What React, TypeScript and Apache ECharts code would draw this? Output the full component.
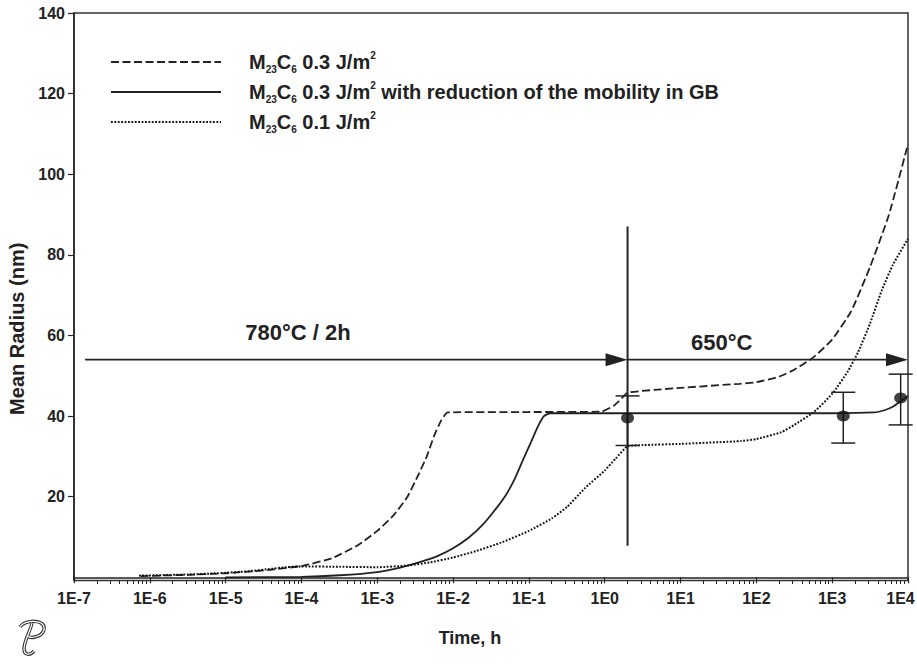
import { useEffect, useRef } from 'react';
import * as echarts from 'echarts';

// ---------- axis ticks ----------
const decadeExponents = [-7, -6, -5, -4, -3, -2, -1, 0, 1, 2, 3, 4];
const decadeLabels = ['1E-7', '1E-6', '1E-5', '1E-4', '1E-3', '1E-2', '1E-1', '1E0', '1E1', '1E2', '1E3', '1E4'];
const minorMultipliers = [2, 3, 4, 5, 6, 7, 8, 9];
const yTickValues = [20, 40, 60, 80, 100, 120, 140];

// ---------- series (time in h, mean radius in nm) ----------
const seriesNames = [
  'M23C6 0.3 J/m2',
  'M23C6 0.3 J/m2 with reduction of the mobility in GB',
  'M23C6 0.1 J/m2',
];
const legendRich = [
  'M{sub|23}C{sub|6} 0.3 J/m{sup|2}',
  'M{sub|23}C{sub|6} 0.3 J/m{sup|2} with reduction of the mobility in GB',
  'M{sub|23}C{sub|6} 0.1 J/m{sup|2}',
];

const curve03: [number, number][] = [
  [7.6e-7, 0.3], [3.2e-6, 0.6], [1e-5, 1.0], [3.2e-5, 1.7], [1e-4, 2.8], [2.5e-4, 4.7],
  [5.6e-4, 8], [1e-3, 11.5], [1.66e-3, 15.5], [2.5e-3, 20], [3.5e-3, 25.5], [4.5e-3, 30],
  [5.6e-3, 35], [7e-3, 39], [8.5e-3, 40.9], [0.1, 41], [0.9, 41.1], [1.3, 42.5], [1.6, 44],
  [2, 45.8], [10, 47], [60, 48], [100, 48.4], [200, 49.8], [316, 51.5], [560, 54.5],
  [1000, 59], [1780, 66], [3160, 77], [5620, 90], [1e4, 107.5],
];

const curve03Reduced: [number, number][] = [
  [1e-5, 0], [1e-4, 0.1], [3.2e-4, 0.5], [1e-3, 1.3], [2e-3, 2.4], [4e-3, 4], [6.3e-3, 5.3],
  [1e-2, 7.2], [1.6e-2, 9.8], [2.5e-2, 13.2], [3.5e-2, 16.5], [5e-2, 20.5], [6.5e-2, 24.4],
  [8.3e-2, 29], [0.107, 33.6], [0.132, 37.5], [0.158, 40], [0.19, 40.7], [2, 40.7],
  [1000, 40.7], [3550, 40.9], [5000, 41.5], [6300, 42.3], [7900, 43.6], [1e4, 45],
];

const curve01: [number, number][] = [
  [7.2e-7, 0.4], [3.2e-6, 0.7], [7.9e-6, 1.0], [2e-5, 1.5], [3.6e-5, 2.0], [6.3e-5, 2.5],
  [1e-4, 2.7], [3.2e-4, 2.6], [1e-3, 2.5], [2.5e-3, 2.9], [5e-3, 3.7], [1e-2, 4.9],
  [2e-2, 6.5], [4.3e-2, 8.6], [0.1, 11.5], [0.2, 14.6], [0.32, 17.5], [0.54, 22], [1.0, 26.5],
  [1.4, 29.5], [2.0, 32.5], [3.2, 32.8], [10, 33.1], [63, 33.8], [100, 34.3], [214, 36],
  [316, 37.8], [575, 41], [1000, 45.5], [1600, 51], [2190, 55.8], [3160, 63], [4470, 71],
  [6310, 77.5], [1e4, 84],
];

// experimental points with error bars
const expTime = [2, 1400, 8000];
const expRadius = [39.5, 40, 44.5];
const expLow = [32.7, 33.3, 37.8];
const expHigh = [45.0, 45.9, 50.4];

// heat-treatment annotations
const boundaryLine: [number, number][] = [[2, 7.8], [2, 87]];
const arrowStart = [1.4e-7, 2];
const arrowEnd = [2, 1e4];
const arrowRadius = [54, 54];
const stageText = ['780°C / 2h', '650°C'];
const stageTime = [9e-5, 35];
const stageRadius = [60.7, 58.3];

const FONT = "'Liberation Sans', Arial, Helvetica, sans-serif";
const INK = '#222';

const logoPath =
  'M2,7 C6,1 17,0 23,3 C29,7 26,15 17,17 C13,18 10,17 9,15 M14,3 C12,12 6,21 6,29 C6,35 12,36 16,31';
echarts.graphic.registerShape('tcLogo', (echarts.graphic as any).extendPath(logoPath, {}));

export default function App() {
  const ref = useRef<HTMLDivElement>(null);

  useEffect(() => {
    document.body.style.margin = '0';
    if (!ref.current) return;
    const chart = echarts.init(ref.current, undefined, { renderer: 'svg' });

    const majorValues = decadeExponents.map((e) => Math.pow(10, e));
    const minorValues: number[] = [];
    decadeExponents.slice(0, -1).forEach((e) => {
      minorMultipliers.forEach((k) => minorValues.push(k * Math.pow(10, e)));
    });
    const lastExp = decadeExponents[decadeExponents.length - 1];

    const lineCommon = {
      type: 'line',
      showSymbol: false,
      symbol: 'none',
      smooth: 0.15,
      xAxisIndex: 0,
      yAxisIndex: 0,
      z: 3,
      itemStyle: { color: INK },
    };

    const option: any = {
      animation: false,
      backgroundColor: '#fff',
      grid: {
        left: 74,
        right: 9,
        top: 13,
        bottom: 84.5,
        show: true,
        borderColor: '#333',
        borderWidth: 1.5,
        backgroundColor: 'transparent',
        containLabel: false,
        outerBoundsMode: 'none',
      },
      legend: {
        data: seriesNames,
        orient: 'vertical',
        left: 110,
        top: 50,
        padding: 0,
        itemWidth: 110,
        itemHeight: 14,
        itemGap: 6,
        selectedMode: false,
        itemStyle: { opacity: 0 },
        formatter: (name: string) => legendRich[seriesNames.indexOf(name)],
        textStyle: {
          fontFamily: FONT,
          fontSize: 20,
          fontWeight: 'bold',
          color: INK,
          lineHeight: 24,
          padding: [0, 0, 0, 23],
          rich: {
            sub: { fontFamily: FONT, fontSize: 10, fontWeight: 'bold', color: INK, verticalAlign: 'bottom' },
            sup: { fontFamily: FONT, fontSize: 10, fontWeight: 'bold', color: INK, verticalAlign: 'top' },
          },
        },
      },
      xAxis: [
        {
          type: 'log',
          logBase: 10,
          min: 1e-7,
          max: 1e4,
          position: 'bottom',
          name: 'Time, h',
          nameLocation: 'middle',
          nameGap: 48,
          nameTextStyle: { fontFamily: FONT, fontSize: 18, fontWeight: 'bold', color: INK, padding: [0, 42, 0, 0] },
          axisLine: { show: true, lineStyle: { color: INK, width: 1.5 } },
          axisTick: { show: true, length: 6, lineStyle: { color: INK, width: 1.2 }, customValues: majorValues },
          axisLabel: {
            customValues: majorValues,
            margin: 10,
            fontFamily: FONT,
            fontSize: 16,
            fontWeight: 'bold',
            color: INK,
            showMinLabel: true,
            showMaxLabel: true,
            formatter: (v: number) => {
              const e = Math.round(Math.log10(v));
              const i = decadeExponents.indexOf(e);
              if (i < 0) return '';
              return e === lastExp ? '{last|' + decadeLabels[i] + '}' : decadeLabels[i];
            },
            rich: {
              last: { fontFamily: FONT, fontSize: 16, fontWeight: 'bold', color: INK, padding: [0, 15, 0, 0] },
            },
          },
          splitLine: { show: false },
        },
        {
          type: 'log',
          logBase: 10,
          min: 1e-7,
          max: 1e4,
          position: 'bottom',
          axisLine: { show: false },
          axisLabel: { show: false },
          splitLine: { show: false },
          axisTick: { show: true, length: 3.5, lineStyle: { color: INK, width: 1 }, customValues: minorValues },
        },
      ],
      yAxis: {
        type: 'value',
        min: -0.8,
        max: 140,
        name: 'Mean Radius (nm)',
        nameLocation: 'middle',
        nameGap: 42,
        nameTextStyle: { fontFamily: FONT, fontSize: 20, fontWeight: 'bold', color: INK, padding: [0, 64, 0, 0] },
        axisLine: { show: true, lineStyle: { color: INK, width: 1.5 } },
        axisTick: { show: true, length: 6, lineStyle: { color: INK, width: 1.2 }, customValues: yTickValues },
        axisLabel: {
          customValues: yTickValues,
          margin: 9,
          fontFamily: FONT,
          fontSize: 16,
          fontWeight: 'bold',
          color: INK,
        },
        splitLine: { show: false },
      },
      graphic: [
        { type: 'tcLogo', x: 18, y: 620, style: { fill: 'none', stroke: '#333', lineWidth: 3.4 }, z: 100 },
        { type: 'tcLogo', x: 18, y: 620, style: { fill: 'none', stroke: '#fff', lineWidth: 1.2 }, z: 101 },
      ],
      series: [
        { ...lineCommon, name: seriesNames[0], data: curve03, lineStyle: { color: INK, width: 1.8, type: [8, 3.5] } },
        { ...lineCommon, name: seriesNames[1], data: curve03Reduced, lineStyle: { color: INK, width: 1.8, type: 'solid' } },
        { ...lineCommon, name: seriesNames[2], data: curve01, lineStyle: { color: '#111', width: 2, type: [1.8, 1.6] } },
        {
          type: 'line',
          name: 'stage boundary',
          data: boundaryLine,
          symbol: 'none',
          smooth: false,
          lineStyle: { color: INK, width: 2 },
          z: 4,
          silent: true,
        },
        {
          type: 'custom',
          name: 'stage arrows',
          data: arrowStart.map((s, i) => [s, arrowEnd[i], arrowRadius[i]]),
          encode: { x: [0, 1], y: 2 },
          silent: true,
          z: 4,
          renderItem: (_p: any, api: any) => {
            const a = api.coord([api.value(0), api.value(2)]);
            const b = api.coord([api.value(1), api.value(2)]);
            return {
              type: 'group',
              children: [
                { type: 'line', shape: { x1: a[0], y1: a[1], x2: b[0] - 8, y2: b[1] }, style: { stroke: INK, lineWidth: 1.8 } },
                {
                  type: 'polygon',
                  shape: { points: [[b[0], b[1]], [b[0] - 22, b[1] - 6.5], [b[0] - 22, b[1] + 6.5]] },
                  style: { fill: INK },
                },
              ],
            };
          },
        },
        {
          type: 'custom',
          name: 'stage labels',
          data: stageTime.map((t, i) => [t, stageRadius[i]]),
          encode: { x: 0, y: 1 },
          silent: true,
          z: 6,
          renderItem: (p: any, api: any) => {
            const c = api.coord([api.value(0), api.value(1)]);
            return {
              type: 'text',
              x: c[0],
              y: c[1],
              style: {
                text: stageText[p.dataIndex],
                fontFamily: FONT,
                fontSize: 22,
                fontWeight: 'bold',
                fill: INK,
                align: 'center',
                verticalAlign: 'middle',
              },
            };
          },
        },
        {
          type: 'custom',
          name: 'error bars',
          data: expTime.map((t, i) => [t, expLow[i], expHigh[i]]),
          encode: { x: 0, y: [1, 2] },
          silent: true,
          z: 5,
          renderItem: (_p: any, api: any) => {
            const lo = api.coord([api.value(0), api.value(1)]);
            const hi = api.coord([api.value(0), api.value(2)]);
            const half = 12;
            const st = { stroke: INK, lineWidth: 1.5 };
            return {
              type: 'group',
              children: [
                { type: 'line', shape: { x1: lo[0], y1: lo[1], x2: hi[0], y2: hi[1] }, style: st },
                { type: 'line', shape: { x1: lo[0] - half, y1: lo[1], x2: lo[0] + half, y2: lo[1] }, style: st },
                { type: 'line', shape: { x1: hi[0] - half, y1: hi[1], x2: hi[0] + half, y2: hi[1] }, style: st },
              ],
            };
          },
        },
        {
          type: 'scatter',
          name: 'experiment',
          data: expTime.map((t, i) => [t, expRadius[i]]),
          symbol: 'circle',
          symbolSize: [13, 11],
          itemStyle: { color: '#111' },
          z: 7,
          silent: true,
        },
      ],
    };

    chart.setOption(option);
    return () => chart.dispose();
  }, []);

  return <div ref={ref} style={{ width: 917, height: 665 }} />;
}
